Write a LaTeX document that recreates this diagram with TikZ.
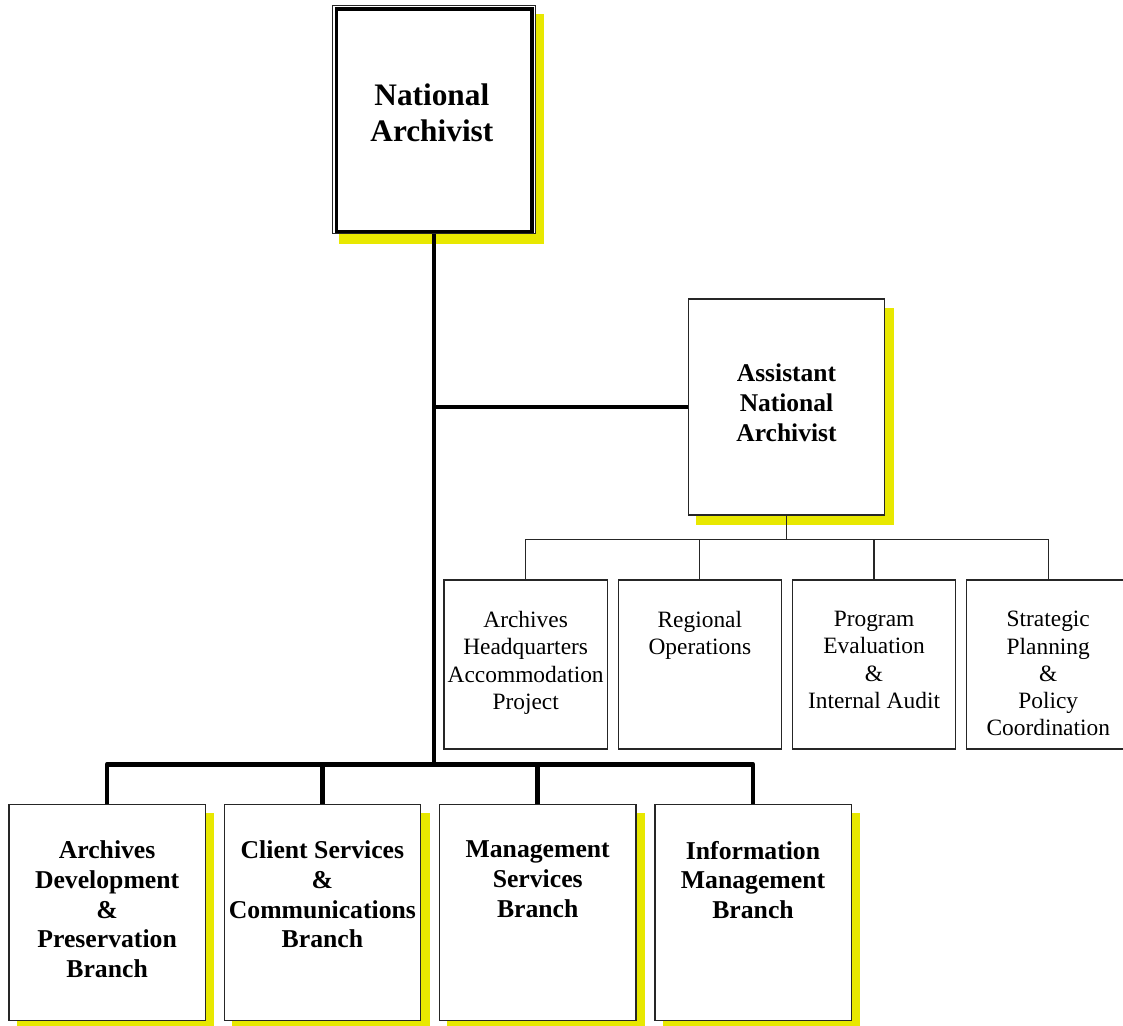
\documentclass[tikz,border=0pt]{standalone}
\usepackage{fontspec}
\setmainfont{Liberation Serif}
\usetikzlibrary{calc,backgrounds}
\definecolor{ylw}{RGB}{232,232,0}
\begin{document}
\begin{tikzpicture}[x=1pt,y=-1pt,
  box/.style={draw=black!85, line width=1.3pt, fill=white, inner sep=0pt, anchor=north west},
  bigbox/.style={box, minimum width=196.3pt, minimum height=216pt},
  smallbox/.style={box, minimum width=163.4pt, minimum height=169pt},
  bigline/.style={line width=4.5pt, line join=round},
  thinline/.style={line width=1.2pt, draw=black!85},
  boldtxt/.style={font=\bfseries\fontsize{25.7}{29.7}\selectfont, align=center, inner sep=0pt, anchor=north},
  smalltxt/.style={font=\fontsize{23.4}{27.3}\selectfont, align=center, inner sep=0pt, anchor=north},
  shadowfill/.style={fill=ylw}
]
\useasboundingbox (0,0) rectangle (1123,1025);
\clip (0,0) rectangle (1123,1025);

% top box
\node[box, line width=1pt, minimum width=203.3pt, minimum height=228.6pt] (na) at (331.7,4.7) {};
\draw[line width=3.3pt] ($(na.north west)+(4.6,4.3)$) rectangle ($(na.south east)+(-4,-2.8)$);
\node[font=\bfseries\fontsize{31.3}{36}\selectfont, align=center, inner sep=0pt, anchor=north] (natxt) at ($(na.north)+(-2,78.5)$) {National\\Archivist};

% assistant
\node[bigbox] (asst) at (687.7,298.3) {};
\node[boldtxt, font=\bfseries\fontsize{25.5}{30}\selectfont] (assttxt) at ($(asst.north)+(0,65.7)$) {Assistant\\National\\Archivist};

% small boxes
\node[smallbox] (s1) at (443.3,579.3) {};
\node[smallbox] (s2) at (617.5,579.3) {};
\node[smallbox] (s3) at (791.7,579.3) {};
\node[smallbox] (s4) at (965.9,579.3) {};
\node[smalltxt] (s1t) at ($(s1.north)+(0,31.7)$) {Archives\\Headquarters\\Accommodation\\Project};
\node[smalltxt] (s2t) at ($(s2.north)+(0,31.7)$) {Regional\\Operations};
\node[smalltxt] (s3t) at ($(s3.north)+(0,31.7)$) {Program\\Evaluation\\\&\\Internal Audit};
\node[smalltxt] (s4t) at ($(s4.north)+(0,31.7)$) {Strategic\\Planning\\\&\\Policy\\Coordination};

% bottom boxes
\node[bigbox] (b1) at (8.3,804) {};
\node[bigbox] (b2) at (223.6,804) {};
\node[bigbox] (b3) at (438.9,804) {};
\node[bigbox] (b4) at (654.2,804) {};
\node[boldtxt] (b1t) at ($(b1.north)+(0,36.7)$) {Archives\\Development\\\&\\Preservation\\Branch};
\node[boldtxt] (b2t) at ($(b2.north)+(0,36.7)$) {Client Services\\\&\\Communications\\Branch};
\node[boldtxt] (b3t) at ($(b3.north)+(0,36.7)$) {Management\\Services\\Branch};
\node[boldtxt] (b4t) at ($(b4.north)+(0,36.7)$) {Information\\Management\\Branch};

% shadows
\begin{scope}[on background layer]
\fill[shadowfill] ($(na.north west)+(7.3,9.3)$) rectangle ($(na.south east)+(8,9.7)$);
\foreach \n in {asst,b1,b2,b3,b4}{
  \fill[shadowfill] ($(\n.north west)+(8.4,9.2)$) rectangle ($(\n.south east)+(8.4,9.2)$);
}
\end{scope}

% thick connectors
\coordinate (bus) at ($(na.south)+(0,530)$);
\draw[bigline] (na.south) -- (bus);
\draw[bigline] (na.south |- asst.west) -- (asst.west);
\draw[bigline] (b1.north) -- (b1.north |- bus) -- (b4.north |- bus) -- (b4.north);
\draw[bigline] (b2.north) -- (b2.north |- bus);
\draw[bigline] (b3.north) -- (b3.north |- bus);

% thin connectors
\coordinate (sbus) at ($(asst.south)+(0,24)$);
\draw[thinline] (asst.south) -- (sbus);
\draw[thinline] (s1.north) -- (s1.north |- sbus) -- (s4.north |- sbus) -- (s4.north);
\draw[thinline] (s2.north) -- (s2.north |- sbus);
\draw[thinline] (s3.north) -- (s3.north |- sbus);
\end{tikzpicture}
\end{document}
